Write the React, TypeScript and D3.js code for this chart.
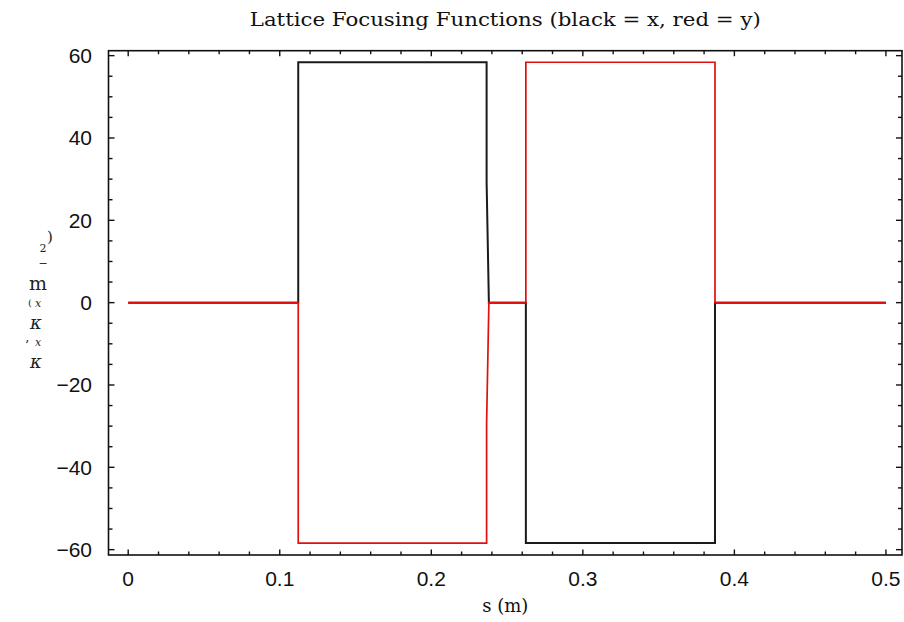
import React, { useEffect, useRef } from 'react'
import * as d3 from 'd3'

// s (m) sample points and focusing functions
const sValues = [0, 0.1122, 0.1122, 0.2365, 0.2365, 0.238, 0.2624, 0.2624, 0.3872, 0.3872, 0.5]
const kxValues = [0, 0, 58.4, 58.4, 29.3, 0, 0, -58.4, -58.4, 0, 0]
const kyValues = [0, 0, -58.4, -58.4, -29.3, 0, 0, 58.4, 58.4, 0, 0]

const xTickValues = [0, 0.1, 0.2, 0.3, 0.4, 0.5]
const xTickLabels = ['0', '0.1', '0.2', '0.3', '0.4', '0.5']
const yTickValues = [-60, -40, -20, 0, 20, 40, 60]
const yTickLabels = ['\u221260', '\u221240', '\u221220', '0', '20', '40', '60']

const titleText = 'Lattice Focusing Functions (black = x, red = y)'
const xLabelText = 's (m)'

export default function App() {
  const ref = useRef<SVGSVGElement>(null)

  useEffect(() => {
    const svg = d3.select(ref.current)
    svg.selectAll('*').remove()

    const left = 108.5, right = 902, top = 50.7, bottom = 555
    const x = d3.scaleLinear().domain([-0.013, 0.5106]).range([left, right])
    const y = d3.scaleLinear().domain([-61.3, 61.2]).range([bottom, top])

    const g = svg.append('g')

    // frame
    g.append('rect')
      .attr('x', left).attr('y', top)
      .attr('width', right - left).attr('height', bottom - top)
      .attr('fill', 'none').attr('stroke', '#111').attr('stroke-width', 1.6)

    // ticks on all four sides, pointing inward
    const xMinor = d3.range(0, 0.5001, 0.02).filter((v) => Math.abs(v * 10 - Math.round(v * 10)) > 1e-6)
    const yMinor = d3.range(-60, 60.001, 5).filter((v) => v % 20 !== 0)
    const tickLines: [number, number, number, number][] = []
    xTickValues.forEach((v) => {
      tickLines.push([x(v), bottom, x(v), bottom - 5.5])
      tickLines.push([x(v), top, x(v), top + 5.5])
    })
    xMinor.forEach((v) => {
      tickLines.push([x(v), bottom, x(v), bottom - 3.5])
      tickLines.push([x(v), top, x(v), top + 3.5])
    })
    yTickValues.forEach((v) => {
      tickLines.push([left, y(v), left + 6, y(v)])
      tickLines.push([right, y(v), right - 6, y(v)])
    })
    yMinor.forEach((v) => {
      tickLines.push([left, y(v), left + 4, y(v)])
      tickLines.push([right, y(v), right - 4, y(v)])
    })
    g.selectAll('.tick')
      .data(tickLines)
      .enter()
      .append('line')
      .attr('class', 'tick')
      .attr('x1', (d) => d[0]).attr('y1', (d) => d[1])
      .attr('x2', (d) => d[2]).attr('y2', (d) => d[3])
      .attr('stroke', '#111').attr('stroke-width', 1.4)

    // tick labels
    g.selectAll('.xlab')
      .data(xTickValues)
      .enter()
      .append('text')
      .attr('class', 'xlab')
      .attr('x', (d) => x(d))
      .attr('y', 586)
      .attr('text-anchor', 'middle')
      .attr('font-family', 'Liberation Sans, Arial, sans-serif')
      .attr('font-size', 21)
      .attr('fill', '#111')
      .text((d, i) => xTickLabels[i])

    g.selectAll('.ylab')
      .data(yTickValues)
      .enter()
      .append('text')
      .attr('class', 'ylab')
      .attr('x', 92)
      .attr('y', (d) => y(d) + 7.5)
      .attr('text-anchor', 'end')
      .attr('font-family', 'Liberation Sans, Arial, sans-serif')
      .attr('font-size', 21)
      .attr('fill', '#111')
      .text((d, i) => yTickLabels[i])

    // curves: black = x, red = y (red drawn on top)
    const idx = d3.range(sValues.length)
    const lineX = d3.line<number>().x((i) => x(sValues[i])).y((i) => y(kxValues[i]))
    const lineY = d3.line<number>().x((i) => x(sValues[i])).y((i) => y(kyValues[i]))

    g.append('path')
      .attr('d', lineX(idx))
      .attr('fill', 'none').attr('stroke', '#1a1a1a').attr('stroke-width', 2)
    g.append('path')
      .attr('d', lineY(idx))
      .attr('fill', 'none').attr('stroke', '#e01010').attr('stroke-width', 1.7)

    // title and x label
    g.append('text')
      .attr('x', (left + right) / 2)
      .attr('y', 26)
      .attr('text-anchor', 'middle')
      .attr('font-family', 'DejaVu Serif, serif')
      .attr('font-size', 19)
      .attr('textLength', 511)
      .attr('lengthAdjust', 'spacingAndGlyphs')
      .attr('fill', '#111')
      .text(titleText)

    g.append('text')
      .attr('x', (left + right) / 2)
      .attr('y', 612)
      .attr('text-anchor', 'middle')
      .attr('font-family', 'DejaVu Serif, serif')
      .attr('font-size', 18)
      .attr('fill', '#111')
      .text(xLabelText)

    // y label: one text whose glyphs sit stacked upright, as in the original rendering
    const yGlyphs = [
      { t: ')', x: 50, y: 242, s: 15, it: false },
      { t: '2', x: 43, y: 252, s: 11, it: false },
      { t: '\u2212', x: 43, y: 267, s: 11, it: false },
      { t: 'm', x: 38, y: 290, s: 19, it: false },
      { t: '(', x: 30, y: 306, s: 10, it: false },
      { t: 'x', x: 38, y: 307, s: 11, it: true },
      { t: '\u03ba', x: 36, y: 329, s: 18, it: true },
      { t: '\u2019', x: 27, y: 350, s: 13, it: false },
      { t: 'x', x: 38, y: 346, s: 11, it: true },
      { t: '\u03ba', x: 36, y: 368, s: 18, it: true },
    ]
    const yLabel = g.append('text')
      .attr('text-anchor', 'middle')
      .attr('font-family', 'DejaVu Serif, serif')
      .attr('fill', '#222')
    yGlyphs.forEach((d) => {
      yLabel.append('tspan')
        .attr('x', d.x)
        .attr('y', d.y)
        .attr('font-size', d.s)
        .attr('font-style', d.it ? 'italic' : 'normal')
        .text(d.t)
    })
  }, [])

  return (
    <svg
      ref={ref}
      width={904}
      height={622}
      style={{ position: 'absolute', left: 0, top: 0, background: '#fff' }}
    />
  )
}
